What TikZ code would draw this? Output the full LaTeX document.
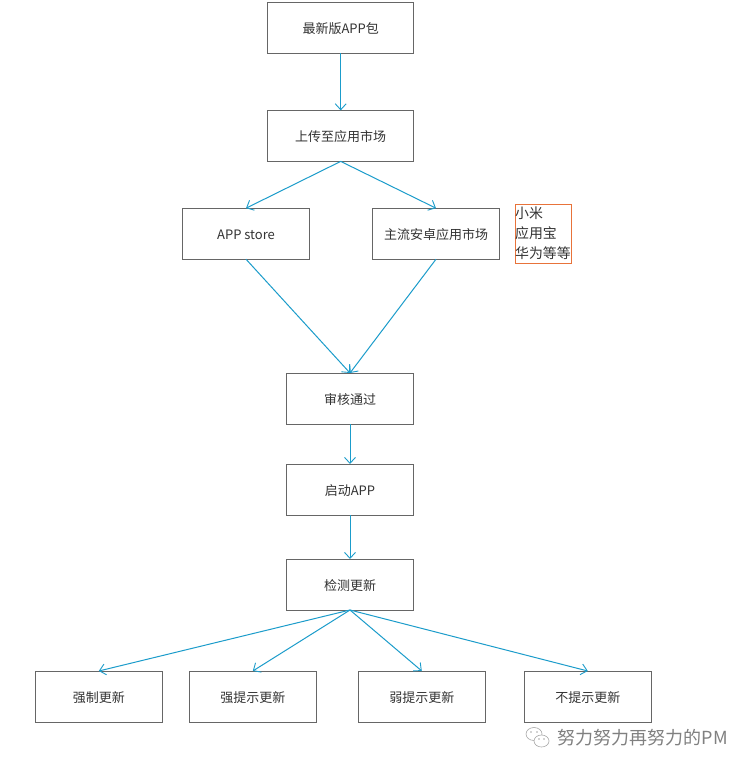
\documentclass[tikz,border=0pt]{standalone}
\usepackage{fontspec}
\setmainfont{Noto Sans CJK SC}
\usepackage{xcolor}
\usetikzlibrary{
  arrows.meta,
  positioning
}
\definecolor{boxStroke}{HTML}{666666}
\definecolor{boxTxt}{HTML}{333333}
\definecolor{arrStroke}{HTML}{1B9CCB}
\definecolor{noteStroke}{HTML}{E8733A}
\definecolor{markTxt}{HTML}{808080}
\definecolor{markLine}{HTML}{A8A8A8}
\tikzset{
  base/.style={
    rectangle, align=center, inner sep=0pt, outer sep=0pt,
    draw=boxStroke, line width=0.9pt, text=boxTxt,
    font=\fontsize{13}{15}\selectfont, text height=12pt, text depth=1pt
  },
  wide nd/.style={base, minimum width=146pt, minimum height=51pt},
  step nd/.style={base, minimum width=127pt, minimum height=51pt},
  note nd/.style={
    rectangle, align=left, inner sep=0pt, outer sep=0pt, text=boxTxt,
    draw=noteStroke, line width=1.1pt, text width=56pt,
    font=\fontsize{13.9}{20}\selectfont, minimum height=59pt
  },
  arr/.style={-{Straight Barb[length=6pt,width=11pt,line width=0.9pt]},
    line width=1pt, color=arrStroke},
  wm bubble/.style={draw=markLine, line width=0.6pt, fill=white},
  wm dot/.style={fill=markLine}
}
\begin{document}
\begin{tikzpicture}[x=1pt, y=-1pt]

    \useasboundingbox[fill=white] (0,0) rectangle (752,770);

    \node[wide nd] (pkg) at (340.7,27.9) {最新版APP包};
    \node[wide nd, below=57pt of pkg] (upload) {上传至应用市场};

    \node[step nd] (apple) at (246,233.7) {APP store};
    \node[step nd, right=63pt of apple] (android) {主流安卓应用市场};
    \node[note nd, right=15.6pt of android] (vendors)
      {小米\\应用宝\\华为等等};

    \node[step nd] (review) at (350,398.5) {审核通过};
    \node[step nd, below=40pt of review] (launch) {启动APP};
    \node[step nd, below=44pt of launch] (check) {检测更新};

    \node[step nd] (force) at (98.8,696.5) {强制更新};
    \node[step nd, right=27pt of force] (strong) {强提示更新};
    \node[step nd, right=42pt of strong] (weak) {弱提示更新};
    \node[step nd, right=39pt of weak] (silent) {不提示更新};

    \draw[arr] (pkg.south) -- (upload.north);
    \draw[arr] (upload.south) -- (apple.north);
    \draw[arr] (upload.south) -- (android.north);
    \draw[arr] (apple.south) -- (review.north);
    \draw[arr] (android.south) -- (review.north);
    \draw[arr] (review.south) -- (launch.north);
    \draw[arr] (launch.south) -- (check.north);
    \draw[arr] (check.south) -- (force.north);
    \draw[arr] (check.south) -- (strong.north);
    \draw[arr] (check.south) -- (weak.north);
    \draw[arr] (check.south) -- (silent.north);

    % watermark
    \draw[wm bubble] (534,734) ellipse (8pt and 6.5pt);
    \draw[wm bubble] (541.5,741) ellipse (7.5pt and 6pt);
    \fill[wm dot] (531,732) circle (0.9pt) (537,732) circle (0.9pt)
      (539,739) circle (0.8pt) (544,739) circle (0.8pt);
    \node[anchor=west, inner sep=0pt, text=markTxt,
          font=\fontsize{18}{20}\selectfont] (brand) at (557.5,737.5)
      {努力努力再努力的PM};

  \end{tikzpicture}
\end{document}
